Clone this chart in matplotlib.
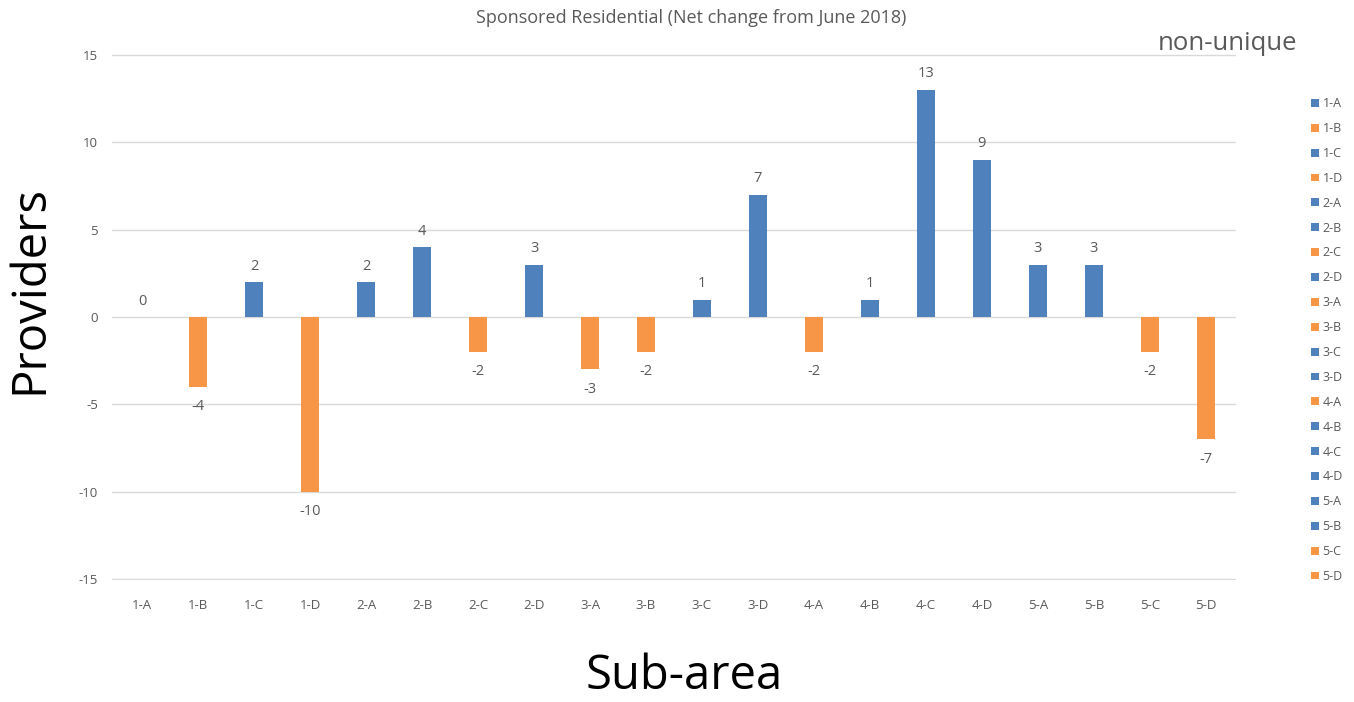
import numpy as np
import matplotlib.pyplot as plt
from matplotlib.patches import Patch

plt.rcParams['font.family'] = ['Open Sans', 'DejaVu Sans']
plt.rcParams['axes.unicode_minus'] = False

## data
subareas = ["1-A", "1-B", "1-C", "1-D", "2-A", "2-B", "2-C", "2-D", "3-A", "3-B",
            "3-C", "3-D", "4-A", "4-B", "4-C", "4-D", "5-A", "5-B", "5-C", "5-D"]
net_change = [0, -4, 2, -10, 2, 4, -2, 3, -3, -2,
              1, 7, -2, 1, 13, 9, 3, 3, -2, -7]
y_ticks = [-15, -10, -5, 0, 5, 10, 15]

blue = "#4F81BD"
orange = "#F79646"
gray = "#595959"

fig = plt.figure(figsize=(13.54, 7.02), dpi=100)
ax = fig.add_axes([112/1354, 1 - 580/702, (1236-112)/1354, (580-54)/702])

x = np.arange(len(subareas))
colors = [blue if v >= 0 else orange for v in net_change]
bars = ax.bar(x, net_change, width=0.33, color=colors, zorder=3)

## value labels
for xi, v in zip(x, net_change):
    if v >= 0:
        ax.annotate(str(v), (xi, v), xytext=(0, 6), textcoords="offset points",
                    ha="center", va="bottom", fontsize=10.5, color=gray)
    else:
        ax.annotate(str(v), (xi, v), xytext=(0, -9), textcoords="offset points",
                    ha="center", va="top", fontsize=10.5, color=gray)

ax.set_xlim(-0.54, len(subareas) - 0.46)
ax.set_ylim(-15.05, 15.05)
ax.set_yticks(y_ticks)
ax.set_xticks(x)
ax.set_xticklabels(subareas)
ax.tick_params(axis="both", length=0, labelsize=9.5, colors=gray)
ax.tick_params(axis="x", pad=14)
ax.tick_params(axis="y", pad=10)
ax.grid(axis="y", color="#D9D9D9", linewidth=1, zorder=0)
for s in ax.spines.values():
    s.set_visible(False)

fig.text(691/1354, 1 - 18/702, "Sponsored Residential (Net change from June 2018)",
         ha="center", va="center", fontsize=13, color=gray)
fig.text(1228/1354, 1 - 44/702, "non-unique", ha="center", va="center",
         fontsize=18.5, color=gray)
fig.text(684/1354, 1 - 676/702, "Sub-area", ha="center", va="center", fontsize=34)
fig.text(30/1354, 1 - 290/702, "Providers", ha="center", va="center",
         fontsize=34, rotation=90)

## one legend entry per sub-area
handles = [Patch(facecolor=c, label=lab) for c, lab in zip(colors, subareas)]
leg = fig.legend(handles=handles, loc="upper left", bbox_to_anchor=(1305/1354, 1 - 91/702),
                 frameon=False, fontsize=9, handlelength=0.6, handleheight=0.6,
                 handletextpad=0.3, labelspacing=0.95, borderpad=0)
for t in leg.get_texts():
    t.set_color(gray)

fig.savefig("out.png", dpi=100)
